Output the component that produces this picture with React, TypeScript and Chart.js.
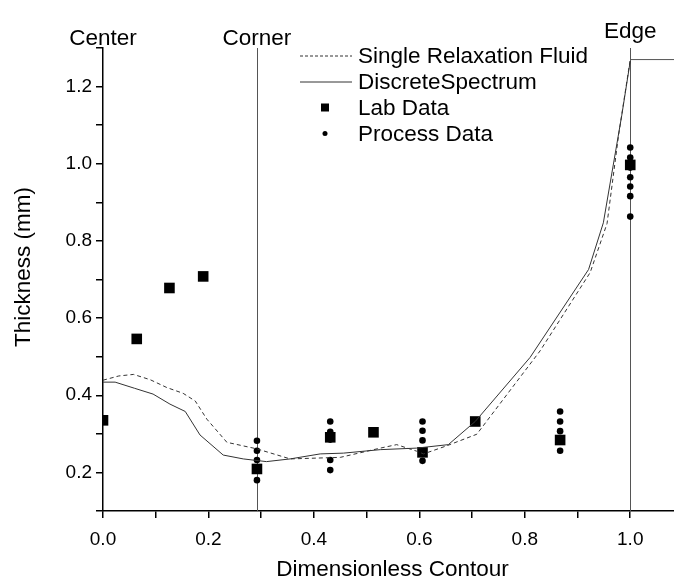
import React, { useEffect, useRef } from "react";
import { Chart, registerables } from "chart.js";

Chart.register(...registerables);

// ---- data ----
const xTickValues = [0, 0.1, 0.2, 0.3, 0.4, 0.5, 0.6, 0.7, 0.8, 0.9, 1.0];
const yTickValues = [0.1, 0.2, 0.3, 0.4, 0.5, 0.6, 0.7, 0.8, 0.9, 1.0, 1.1, 1.2, 1.3];

const singleRelaxX = [0, 0.03, 0.058, 0.09, 0.121, 0.152, 0.175, 0.197, 0.235, 0.292, 0.355, 0.45, 0.526, 0.557, 0.595, 0.608, 0.652, 0.709, 0.829, 0.924, 0.956, 0.978, 1.0];
const singleRelaxY = [0.439, 0.45, 0.454, 0.44, 0.42, 0.405, 0.385, 0.338, 0.278, 0.261, 0.235, 0.239, 0.263, 0.272, 0.255, 0.248, 0.269, 0.299, 0.515, 0.718, 0.845, 1.075, 1.27];

const discreteX = [0, 0.023, 0.06, 0.095, 0.127, 0.156, 0.184, 0.228, 0.266, 0.31, 0.355, 0.412, 0.456, 0.526, 0.595, 0.655, 0.706, 0.81, 0.921, 0.949, 0.984, 1.0];
const discreteY = [0.434, 0.434, 0.418, 0.403, 0.377, 0.358, 0.297, 0.245, 0.235, 0.228, 0.235, 0.248, 0.25, 0.259, 0.263, 0.272, 0.332, 0.498, 0.726, 0.847, 1.126, 1.266];

const labX = [0, 0.064, 0.126, 0.19, 0.292, 0.431, 0.513, 0.606, 0.706, 0.867, 1.0];
const labY = [0.335, 0.546, 0.678, 0.708, 0.209, 0.291, 0.304, 0.252, 0.332, 0.284, 0.997];

const processX = [0.292, 0.292, 0.292, 0.292, 0.431, 0.431, 0.431, 0.431, 0.431, 0.431, 0.606, 0.606, 0.606, 0.606, 0.867, 0.867, 0.867, 0.867, 1.0, 1.0, 1.0, 1.0, 1.0, 1.0, 1.0];
const processY = [0.282, 0.256, 0.232, 0.18, 0.332, 0.305, 0.295, 0.285, 0.232, 0.206, 0.332, 0.308, 0.283, 0.23, 0.358, 0.332, 0.307, 0.256, 1.042, 1.016, 0.99, 0.965, 0.941, 0.916, 0.863];

const edgeCapX = [1.0, 1.083];
const edgeCapY = [1.27, 1.27];

const markerLines = [
  { label: "Center", x: 0, showLine: false },
  { label: "Corner", x: 0.292, showLine: true },
  { label: "Edge", x: 1.0, showLine: true },
];

const xMin = 0;
const xMax = 1.083;
const yMin = 0.1;
const yMax = 1.3;

const legendItems = ["Single Relaxation Fluid", "DiscreteSpectrum", "Lab Data", "Process Data"];
const xTitle = "Dimensionless Contour";
const yTitle = "Thickness (mm)";

const FONT = "'Liberation Sans', Arial, Helvetica, sans-serif";
const BIG = 22.5;

const zip = (xs: number[], ys: number[]) => xs.map((x, i) => ({ x, y: ys[i] }));

const decorPlugin = {
  id: "decor",
  beforeDatasetsDraw(chart: any) {
    const { ctx, chartArea, scales } = chart;
    ctx.save();
    ctx.strokeStyle = "#555";
    ctx.lineWidth = 1;
    markerLines.forEach((m) => {
      if (!m.showLine) return;
      const px = Math.round(scales.x.getPixelForValue(m.x)) + 0.5;
      ctx.beginPath();
      ctx.moveTo(px, chartArea.top);
      ctx.lineTo(px, chartArea.bottom);
      ctx.stroke();
    });
    ctx.restore();
  },
  afterDraw(chart: any) {
    const { ctx, chartArea, scales } = chart;
    ctx.save();
    ctx.fillStyle = "#000";
    ctx.font = `${BIG}px ${FONT}`;
    ctx.textAlign = "center";
    ctx.textBaseline = "alphabetic";
    const labelBase = [45, 45, 38];
    markerLines.forEach((m, i) => {
      const px = scales.x.getPixelForValue(m.x);
      ctx.fillText(m.label, px, labelBase[i]);
    });

    // legend
    const sx0 = 300, sx1 = 352, mx = 325, tx = 358;
    const rows = [63, 89, 115, 141];
    ctx.textAlign = "left";
    legendItems.forEach((t, i) => {
      const base = rows[i];
      const cy = base - 7.5;
      ctx.strokeStyle = "#333";
      ctx.lineWidth = 1;
      if (i === 0) {
        ctx.setLineDash([3, 2]);
        ctx.beginPath();
        ctx.moveTo(sx0, cy + 0.5);
        ctx.lineTo(sx1, cy + 0.5);
        ctx.stroke();
        ctx.setLineDash([]);
      } else if (i === 1) {
        ctx.beginPath();
        ctx.moveTo(sx0, cy + 0.5);
        ctx.lineTo(sx1, cy + 0.5);
        ctx.stroke();
      } else if (i === 2) {
        ctx.fillRect(mx - 4, cy - 4, 8, 8);
      } else {
        ctx.beginPath();
        ctx.arc(mx, cy, 2.5, 0, Math.PI * 2);
        ctx.fill();
      }
      ctx.fillText(t, tx, base);
    });

    // y title
    ctx.save();
    ctx.translate(24, 267);
    ctx.rotate(-Math.PI / 2);
    ctx.textAlign = "center";
    ctx.textBaseline = "middle";
    ctx.fillText(yTitle, 0, 0);
    ctx.restore();

    // x title
    ctx.textAlign = "center";
    ctx.textBaseline = "alphabetic";
    ctx.fillText(xTitle, (chartArea.left + chartArea.right) / 2 + 4, 576);
    ctx.restore();
  },
};

export default function App() {
  const ref = useRef<HTMLCanvasElement | null>(null);
  useEffect(() => {
    document.body.style.margin = "0";
    const canvas = ref.current;
    if (!canvas) return;
    const chart = new Chart(canvas, {
      type: "scatter",
      data: {
        datasets: [
          {
            label: legendItems[0],
            data: zip(singleRelaxX, singleRelaxY),
            showLine: true,
            borderColor: "#333",
            borderWidth: 1,
            borderDash: [4, 3],
            pointRadius: 0,
            fill: false,
          },
          {
            label: legendItems[1],
            data: zip(discreteX, discreteY),
            showLine: true,
            borderColor: "#333",
            borderWidth: 1,
            pointRadius: 0,
            fill: false,
          },
          {
            label: "edgecap",
            data: zip(edgeCapX, edgeCapY),
            showLine: true,
            borderColor: "#555",
            borderWidth: 1,
            pointRadius: 0,
            fill: false,
          },
          {
            label: legendItems[3],
            data: zip(processX, processY),
            pointStyle: "circle",
            pointRadius: 3.3,
            backgroundColor: "#000",
            borderColor: "#000",
            borderWidth: 0,
          },
          {
            label: legendItems[2],
            data: zip(labX, labY),
            pointStyle: "rect",
            pointRadius: 7.5,
            backgroundColor: "#000",
            borderColor: "#000",
            borderWidth: 0,
            clip: 0,
          },
        ],
      } as any,
      options: {
        responsive: false,
        animation: false,
        layout: { autoPadding: false, padding: { top: 48, right: 0, left: 0, bottom: 0 } },
        plugins: {
          legend: { display: false },
          tooltip: { enabled: false },
          title: { display: false },
        },
        scales: {
          x: {
            type: "linear",
            min: xMin,
            max: xMax,
            afterBuildTicks: (scale: any) => {
              scale.ticks = xTickValues.map((v) => ({ value: v }));
            },
            afterFit: (scale: any) => {
              scale.height = 70;
              scale.paddingLeft = 0;
              scale.paddingRight = 0;
            },
            border: { display: true, color: "#000", width: 1.5 },
            grid: { drawOnChartArea: false, drawTicks: true, tickLength: 7, color: "#000", lineWidth: 1.5 },
            ticks: {
              autoSkip: false,
              maxRotation: 0,
              padding: 0,
              color: "#000",
              font: { family: FONT, size: 19, lineHeight: "44px" },
              callback: (v: any) => (Math.round(Number(v) * 10) % 2 === 0 ? Number(v).toFixed(1) : ""),
            },
          },
          y: {
            type: "linear",
            min: yMin,
            max: yMax,
            afterBuildTicks: (scale: any) => {
              scale.ticks = yTickValues.map((v) => ({ value: v }));
            },
            afterFit: (scale: any) => {
              scale.width = 103;
              scale.paddingTop = 0;
              scale.paddingBottom = 0;
            },
            border: { display: true, color: "#000", width: 1.5 },
            grid: { drawOnChartArea: false, drawTicks: true, tickLength: 7, color: "#000", lineWidth: 1.5 },
            ticks: {
              autoSkip: false,
              padding: 4,
              color: "#000",
              font: { family: FONT, size: 19 },
              callback: (v: any) => (Math.round(Number(v) * 10) % 2 === 0 ? Number(v).toFixed(1) : ""),
            },
          },
        },
      } as any,
      plugins: [decorPlugin],
    });
    return () => chart.destroy();
  }, []);
  return (
    <div style={{ width: 674, height: 581 }}>
      <canvas ref={ref} width={674} height={581} style={{ display: "block" }} />
    </div>
  );
}
